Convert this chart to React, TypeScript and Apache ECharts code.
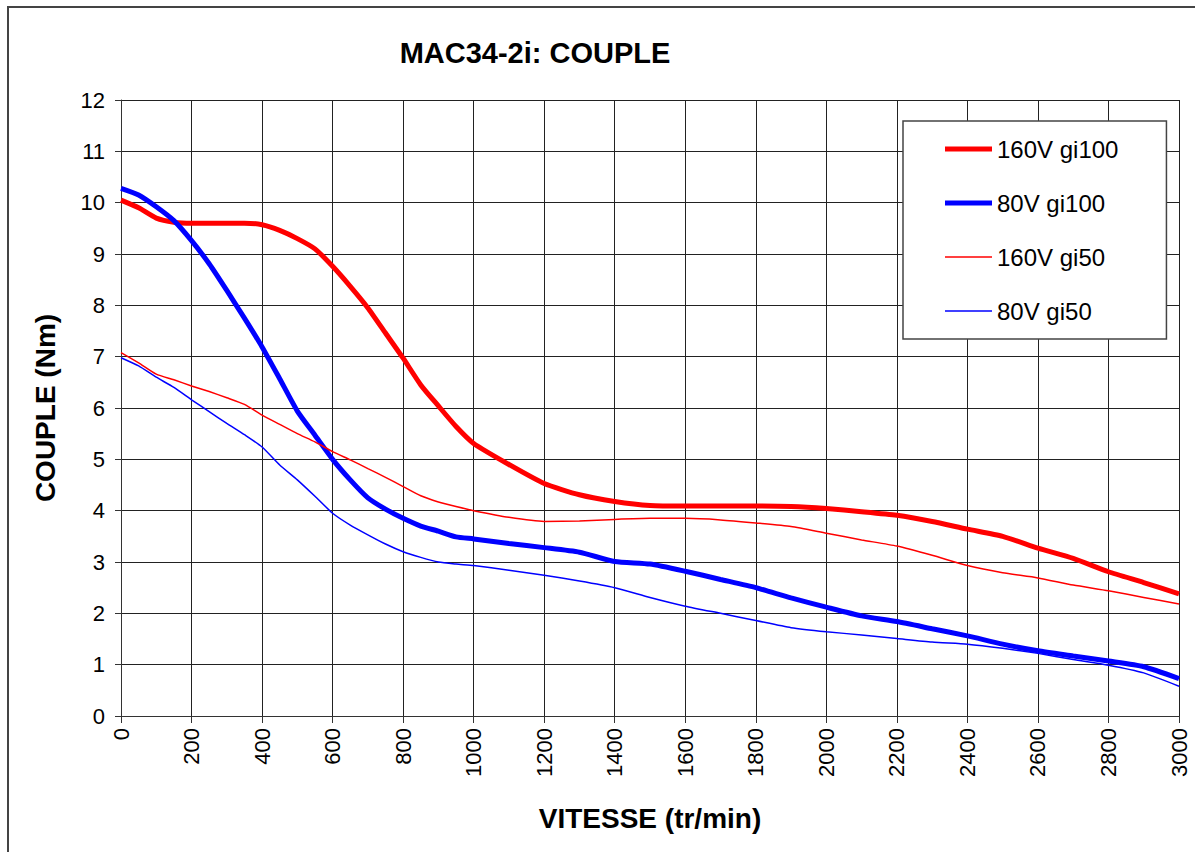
import React, { useEffect, useRef } from "react";
import * as echarts from "echarts";

const FONT = "'Liberation Sans', Arial, sans-serif";

const rpm = [
  0, 50, 100, 150, 200, 250, 300, 350, 400, 450, 500, 550, 600, 650, 700, 750, 800, 850, 900, 950,
  1000, 1100, 1200, 1300, 1400, 1500, 1600, 1700, 1800, 1900, 2000, 2100, 2200, 2300, 2400, 2500,
  2600, 2700, 2800, 2900, 3000,
];

const v160gi100 = [
  10.05, 9.9, 9.7, 9.62, 9.6, 9.6, 9.6, 9.6, 9.57, 9.46, 9.3, 9.1, 8.76, 8.37, 7.95, 7.46, 6.97, 6.45, 6.04, 5.64,
  5.31, 4.9, 4.53, 4.31, 4.18, 4.1, 4.09, 4.09, 4.09, 4.08, 4.04, 3.98, 3.91, 3.79, 3.64, 3.5,
  3.27, 3.07, 2.81, 2.6, 2.38,
];

const v80gi100 = [
  10.28, 10.15, 9.92, 9.65, 9.26, 8.81, 8.29, 7.75, 7.19, 6.57, 5.94, 5.47, 5.0, 4.6, 4.25, 4.03, 3.85, 3.7, 3.6, 3.49,
  3.45, 3.36, 3.28, 3.19, 3.01, 2.96, 2.82, 2.66, 2.5, 2.3, 2.12, 1.95, 1.84, 1.7, 1.56, 1.4,
  1.27, 1.17, 1.07, 0.96, 0.73,
];

const v160gi50 = [
  7.08, 6.88, 6.66, 6.55, 6.43, 6.32, 6.2, 6.07, 5.86, 5.68, 5.5, 5.34, 5.15, 4.99, 4.82, 4.65, 4.47, 4.29, 4.17, 4.08,
  4.0, 3.87, 3.79, 3.8, 3.83, 3.85, 3.85, 3.82, 3.76, 3.69, 3.56, 3.43, 3.31, 3.13, 2.93, 2.79,
  2.69, 2.55, 2.44, 2.31, 2.18,
];

const v80gi50 = [
  6.98, 6.82, 6.6, 6.4, 6.16, 5.93, 5.7, 5.48, 5.24, 4.89, 4.6, 4.28, 3.95, 3.72, 3.53, 3.35, 3.2, 3.09, 3.0, 2.96,
  2.93, 2.84, 2.74, 2.63, 2.5, 2.31, 2.14, 2.0, 1.86, 1.72, 1.64, 1.58, 1.51, 1.44, 1.4, 1.32,
  1.22, 1.1, 0.99, 0.84, 0.58,
];

const seriesNames = ["160V gi100", "80V gi100", "160V gi50", "80V gi50"];
const seriesColors = ["#ff0000", "#0000ff", "#ff0000", "#0000ff"];
const seriesWidths = [5, 5, 1.5, 1.5];
const seriesValues = [v160gi100, v80gi100, v160gi50, v80gi50];
const legendIcons = [
  "path://M0,0H100V11H0Z",
  "path://M0,0H100V11H0Z",
  "path://M0,0H100V3.5H0Z",
  "path://M0,0H100V3.5H0Z",
];

export default function App() {
  const ref = useRef<HTMLDivElement>(null);

  useEffect(() => {
    document.body.style.margin = "0";
    const chart = echarts.init(ref.current!, null, { renderer: "svg" });
    chart.setOption({
      animation: false,
      backgroundColor: "#ffffff",
      title: {
        text: "MAC34-2i: COUPLE",
        left: 530,
        top: 33,
        textAlign: "center",
        textStyle: { fontFamily: FONT, fontSize: 29, fontWeight: "bold", color: "#000" },
      },
      graphic: [
        {
          type: "rect",
          shape: { x: 8, y: 7, width: 1400, height: 1000 },
          style: { fill: "none", stroke: "#444", lineWidth: 2 },
          silent: true,
        },
      ],
      legend: {
        orient: "vertical",
        left: 903,
        top: 121,
        padding: [16, 48, 16, 42],
        itemWidth: 47,
        itemHeight: 24,
        itemGap: 30,
        symbolKeepAspect: true,
        backgroundColor: "#fff",
        borderColor: "#444",
        borderWidth: 1.5,
        borderRadius: 0,
        textStyle: { fontFamily: FONT, fontSize: 24, color: "#000" },
        data: seriesNames.map((name, s) => ({
          name,
          icon: legendIcons[s],
          itemStyle: { color: seriesColors[s] },
        })),
      },
      grid: { left: 121, top: 100, right: 16, bottom: 136, containLabel: false },
      xAxis: {
        type: "value",
        min: 0,
        max: 3000,
        interval: 200,
        name: "VITESSE (tr/min)",
        nameLocation: "middle",
        nameGap: 88,
        nameTextStyle: { fontFamily: FONT, fontSize: 28, fontWeight: "bold", color: "#000" },
        axisLine: { show: true, lineStyle: { color: "#333", width: 1 } },
        axisTick: { show: true, inside: false, length: 7, lineStyle: { color: "#333" } },
        axisLabel: {
          rotate: 90,
          margin: 12,
          fontFamily: FONT,
          fontSize: 22,
          color: "#000",
          formatter: (v: number) => String(v),
        },
        splitLine: { show: true, lineStyle: { color: "#222", width: 1 } },
      },
      yAxis: {
        type: "value",
        min: 0,
        max: 12,
        interval: 1,
        name: "COUPLE (Nm)",
        nameLocation: "middle",
        nameGap: 62,
        nameRotate: 90,
        nameTextStyle: { fontFamily: FONT, fontSize: 28, fontWeight: "bold", color: "#000" },
        axisLine: { show: true, lineStyle: { color: "#333", width: 1 } },
        axisTick: { show: true, inside: false, length: 6, lineStyle: { color: "#333" } },
        axisLabel: { margin: 16, fontFamily: FONT, fontSize: 22, color: "#000" },
        splitLine: { show: true, lineStyle: { color: "#222", width: 1 } },
      },
      series: seriesNames.map((name, s) => ({
        name,
        type: "line",
        showSymbol: false,
        symbol: "none",
        smooth: 0.2,
        color: seriesColors[s],
        lineStyle: { color: seriesColors[s], width: seriesWidths[s] },
        data: rpm.map((x, i) => [x, seriesValues[s][i]]),
      })),
    });
    return () => chart.dispose();
  }, []);

  return <div ref={ref} style={{ width: 1195, height: 852 }} />;
}
